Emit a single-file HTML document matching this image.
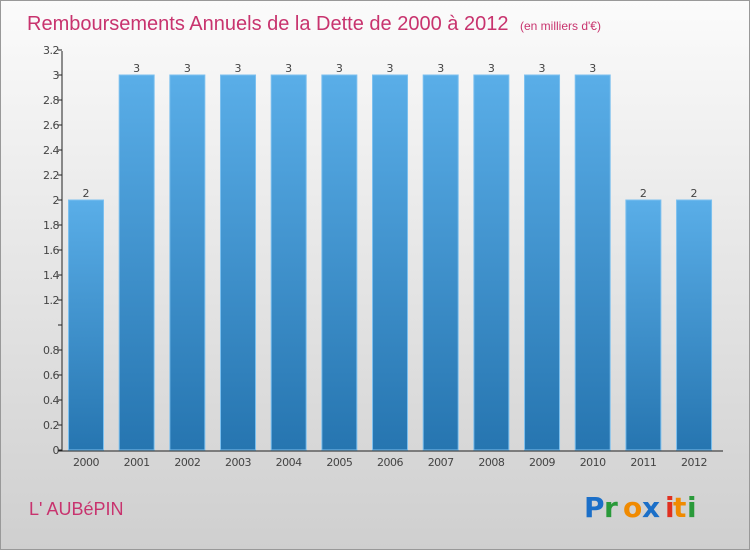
<!DOCTYPE html>
<html><head><meta charset="utf-8"><style>
body{margin:0}
#c{position:relative;width:748px;height:548px;border:1px solid #999;background:linear-gradient(#fbfbfb,#cfcfcf);font-family:"DejaVu Sans","Liberation Sans",sans-serif;overflow:hidden}
</style></head><body>
<div id="c">
<svg width="748" height="548" xmlns="http://www.w3.org/2000/svg" id="svg">
<defs><linearGradient id="bg" x1="0" y1="0" x2="0" y2="1"><stop offset="0" stop-color="#5aaee8"/><stop offset="1" stop-color="#2675b0"/></linearGradient></defs>
<text x="26" y="29" font-size="20" fill="#c8336e" font-family="Liberation Sans, sans-serif">Remboursements Annuels de la Dette de 2000 à 2012 <tspan font-size="12" dx="6">(en milliers d'€)</tspan></text>
<text x="28" y="514" font-size="18" fill="#c8336e" font-family="Liberation Sans, sans-serif">L' AUBéPIN</text>
<g font-family="DejaVu Sans, sans-serif" font-size="28" font-weight="bold">
<text x="583" y="516" fill="#1b6fc8">P</text><text x="603" y="516" fill="#2a9a3a">r</text><text x="622" y="516" fill="#f08a00">o</text><text x="641" y="516" fill="#1b6fc8">x</text><text x="664" y="516" fill="#e03020">i</text><text x="672" y="516" fill="#f08a00">t</text><text x="686" y="516" fill="#2a9a3a">i</text>
</g>
<g id="plot"></g>
</svg>
</div>
<script>
const categories=["2000","2001","2002","2003","2004","2005","2006","2007","2008","2009","2010","2011","2012"];
const values=[2,3,3,3,3,3,3,3,3,3,3,2,2];
const valueLabels=["2","3","3","3","3","3","3","3","3","3","3","2","2"];
const yTicks=[0,0.2,0.4,0.6,0.8,1,1.2,1.4,1.6,1.8,2,2.2,2.4,2.6,2.8,3,3.2];
const yTickLabels=["0","0.2","0.4","0.6","0.8","","1.2","1.4","1.6","1.8","2","2.2","2.4","2.6","2.8","3","3.2"];
const NS="http://www.w3.org/2000/svg";
const g=document.getElementById('plot');
const y=v=>449-v*125;
const x=i=>85+i*50.67;
function mk(t,a,p){const e=document.createElementNS(NS,t);for(const k in a)e.setAttribute(k,a[k]);(p||g).appendChild(e);return e;}
yTicks.forEach((t,i)=>{
 const tk=mk('line',{x1:57,x2:61,y1:y(t),y2:y(t),stroke:'#222'});
 
 
 if(yTickLabels[i]!==""){const l=mk('text',{x:58,y:y(t)+4,'font-size':11,'text-anchor':'end',fill:'#444','letter-spacing':'-0.5'});l.textContent=yTickLabels[i];
 
 }
});
categories.forEach((c,i)=>{
 const b=mk('rect',{x:x(i)-17.5,y:y(values[i]),width:35,height:449-y(values[i]),fill:'url(#bg)',stroke:'#7cc0ef','stroke-width':1});
 
 
 const v=mk('text',{x:x(i),y:y(values[i])-3,'font-size':11,'text-anchor':'middle',fill:'#444'});v.textContent=valueLabels[i];
 
 
 const l=mk('text',{x:x(i),y:465,'font-size':11,'text-anchor':'middle',fill:'#444','letter-spacing':'-0.5'});l.textContent=c;
 
 
});
const ya=mk('line',{x1:61,x2:61,y1:50,y2:450,stroke:'#222'});


const xa=mk('line',{x1:57,x2:722,y1:450,y2:450,stroke:'#222'});


</script>
</body></html>
